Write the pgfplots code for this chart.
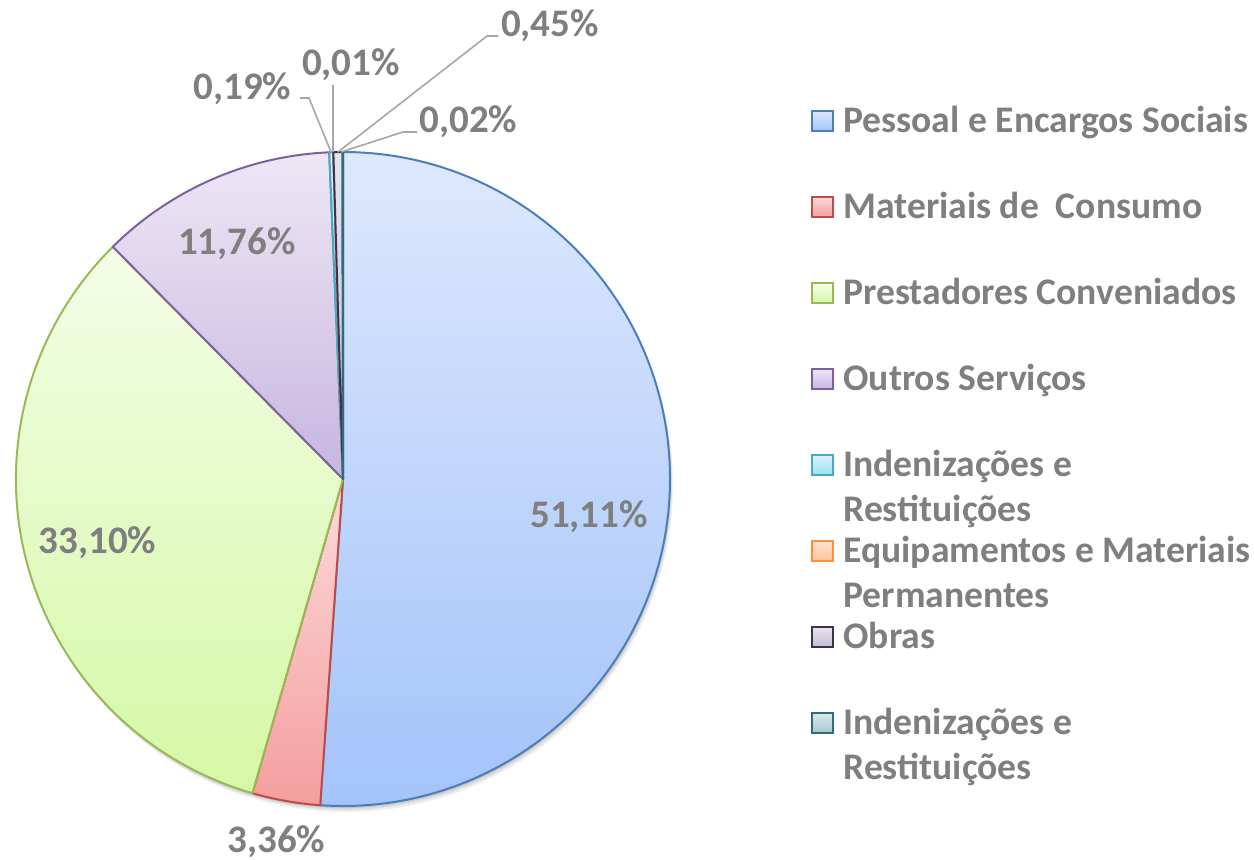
\documentclass[border=0pt]{standalone}
\usepackage{pgfplots}
\pgfplotsset{compat=1.18}
\usepackage{pgfplotstable}
\usepackage{fontspec}
\setmainfont{Carlito}

\definecolor{txt}{HTML}{7F7F7F}
\definecolor{lead}{HTML}{A6A6A6}
\definecolor{bluT}{HTML}{DDE8FC}\definecolor{bluB}{HTML}{A3C3FA}\definecolor{bluD}{HTML}{4A7EBB}
\definecolor{redT}{HTML}{FBDADA}\definecolor{redB}{HTML}{F59E9E}\definecolor{redD}{HTML}{BE4B48}
\definecolor{grnT}{HTML}{F3FDE6}\definecolor{grnB}{HTML}{D5F8A6}\definecolor{grnD}{HTML}{98B954}
\definecolor{purT}{HTML}{EDE7F5}\definecolor{purB}{HTML}{C7B5E0}\definecolor{purD}{HTML}{7D60A0}
\definecolor{cyaT}{HTML}{DCF3FA}\definecolor{cyaB}{HTML}{9EE0F2}\definecolor{cyaD}{HTML}{46AAC5}
\definecolor{oraT}{HTML}{FDE2CF}\definecolor{oraB}{HTML}{FBC295}\definecolor{oraD}{HTML}{F69240}
\definecolor{obrT}{HTML}{E6E3EC}\definecolor{obrB}{HTML}{C4BDD2}\definecolor{obrD}{HTML}{403152}
\definecolor{tealT}{HTML}{DDE9EC}\definecolor{tealB}{HTML}{A6C5CD}\definecolor{tealD}{HTML}{2C6E7E}

% slices, clockwise from 12 o'clock
\pgfplotstableread{
value T B D
51.11 bluT bluB bluD
3.36 redT redB redD
33.10 grnT grnB grnD
11.76 purT purB purD
0.19 cyaT cyaB cyaD
0.01 oraT oraB oraD
0.45 obrT obrB obrD
0.02 tealT tealB tealD
}\piedata

\newcommand{\lab}{\bfseries\fontsize{19.5}{23}\selectfont}
\newcommand{\leg}{\bfseries\fontsize{18.8}{22}\selectfont}

\begin{document}
\begin{tikzpicture}
\begin{axis}[
  width=627pt, height=429.5pt, scale only axis,
  xmin=0, xmax=1254, ymin=0, ymax=859, y dir=reverse,
  hide axis, clip=false,
]
\coordinate (bbA) at (axis cs:0,859);
\coordinate (bbB) at (axis cs:1254,0);
% soft shadow
\fill[black, opacity=0.06] (axis cs:346,485) circle[radius=163.5pt];
\fill[black, opacity=0.08] (axis cs:345,483) circle[radius=163.5pt];
\fill[black, opacity=0.10] (axis cs:344,481) circle[radius=163.5pt];
\fill[white] (axis cs:343,479) circle[radius=163.5pt];
% slices
\def\cum{0}%
\pgfplotsforeachungrouped \i in {0,...,7}{%
  \pgfplotstablegetelem{\i}{value}\of\piedata \let\val\pgfplotsretval
  \pgfplotstablegetelem{\i}{T}\of\piedata \let\ct\pgfplotsretval
  \pgfplotstablegetelem{\i}{B}\of\piedata \let\cb\pgfplotsretval
  \pgfplotstablegetelem{\i}{D}\of\piedata \let\cd\pgfplotsretval
  \pgfmathsetmacro\aS{90-3.6*\cum}%
  \pgfmathsetmacro\aE{90-3.6*(\cum+\val)}%
  \pgfmathsetmacro\xs{343+327*cos(\aS)}%
  \pgfmathsetmacro\ys{479-327*sin(\aS)}%
  \edef\doslice{\noexpand\path[top color=\ct, bottom color=\cb, draw=\cd, line width=1pt, line join=round]
    (axis cs:343,479) -- (axis cs:\xs,\ys) arc[start angle=\aS, end angle=\aE, radius=163.5pt] -- cycle;}%
  \doslice
  \pgfmathsetmacro\cum{\cum+\val}%
}
% leader lines
\draw[lead, line width=0.8pt] (axis cs:300,98) -- (axis cs:309,98) -- (axis cs:331,152);
\draw[lead, line width=0.8pt] (axis cs:333,85) -- (axis cs:333,152);
\draw[lead, line width=0.8pt] (axis cs:498,36) -- (axis cs:487,36) -- (axis cs:338,152);
\draw[lead, line width=0.8pt] (axis cs:417,132) -- (axis cs:403,132) -- (axis cs:341,152);
% data labels
\node[txt, anchor=base, inner sep=0pt] at (axis cs:589,527) {\lab 51,11\%};
\node[txt, anchor=base, inner sep=0pt] at (axis cs:97.5,553) {\lab 33,10\%};
\node[txt, anchor=base, inner sep=0pt] at (axis cs:237,254) {\lab 11,76\%};
\node[txt, anchor=base, inner sep=0pt] at (axis cs:276.5,852) {\lab 3,36\%};
\node[txt, anchor=base, inner sep=0pt] at (axis cs:242.5,99) {\lab 0,19\%};
\node[txt, anchor=base, inner sep=0pt] at (axis cs:351,75) {\lab 0,01\%};
\node[txt, anchor=base, inner sep=0pt] at (axis cs:550,36) {\lab 0,45\%};
\node[txt, anchor=base, inner sep=0pt] at (axis cs:468.5,132) {\lab 0,02\%};
% legend
\path[top color=bluT, bottom color=bluB, draw=bluD, line width=1pt] (axis cs:812,111) rectangle (axis cs:833,131);
\node[txt, anchor=base west, inner sep=0pt] at (axis cs:843,132) {\leg Pessoal e Encargos Sociais};
\path[top color=redT, bottom color=redB, draw=redD, line width=1pt] (axis cs:812,197) rectangle (axis cs:833,217);
\node[txt, anchor=base west, inner sep=0pt] at (axis cs:843,218) {\leg Materiais de~ Consumo};
\path[top color=grnT, bottom color=grnB, draw=grnD, line width=1pt] (axis cs:812,283) rectangle (axis cs:833,303);
\node[txt, anchor=base west, inner sep=0pt] at (axis cs:843,304) {\leg Prestadores Conveniados};
\path[top color=purT, bottom color=purB, draw=purD, line width=1pt] (axis cs:812,369) rectangle (axis cs:833,389);
\node[txt, anchor=base west, inner sep=0pt] at (axis cs:843,390) {\leg Outros Serviços};
\path[top color=cyaT, bottom color=cyaB, draw=cyaD, line width=1pt] (axis cs:812,455) rectangle (axis cs:833,475);
\node[txt, anchor=base west, inner sep=0pt] at (axis cs:843,476) {\leg Indenizações e};
\node[txt, anchor=base west, inner sep=0pt] at (axis cs:843,521) {\leg Restituições};
\path[top color=oraT, bottom color=oraB, draw=oraD, line width=1pt] (axis cs:812,541) rectangle (axis cs:833,561);
\node[txt, anchor=base west, inner sep=0pt] at (axis cs:843,562) {\leg Equipamentos e Materiais};
\node[txt, anchor=base west, inner sep=0pt] at (axis cs:843,607) {\leg Permanentes};
\path[top color=obrT, bottom color=obrB, draw=obrD, line width=1pt] (axis cs:812,627) rectangle (axis cs:833,647);
\node[txt, anchor=base west, inner sep=0pt] at (axis cs:843,648) {\leg Obras};
\path[top color=tealT, bottom color=tealB, draw=tealD, line width=1pt] (axis cs:812,713) rectangle (axis cs:833,733);
\node[txt, anchor=base west, inner sep=0pt] at (axis cs:843,734) {\leg Indenizações e};
\node[txt, anchor=base west, inner sep=0pt] at (axis cs:843,779) {\leg Restituições};
\end{axis}
\pgfresetboundingbox
\path[use as bounding box] (bbA) rectangle (bbB);
\end{tikzpicture}
\end{document}
